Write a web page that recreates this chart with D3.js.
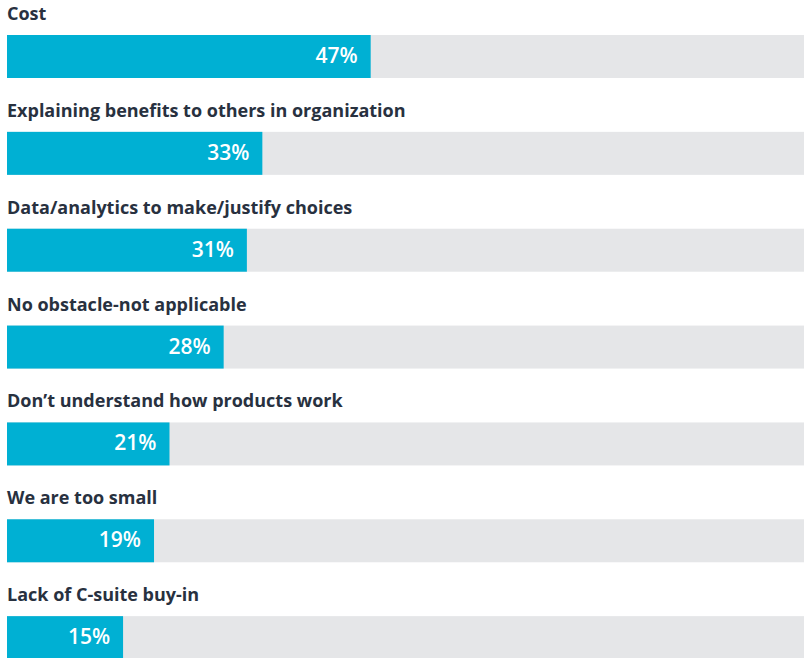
<!DOCTYPE html>
<html>
<head>
<meta charset="utf-8">
<script src="https://cdn.jsdelivr.net/npm/d3@7"></script>
<style>
  body { margin: 0; background: #fff; }
</style>
</head>
<body>
<script>
// survey answers, in display order
var categories = [
  "Cost",
  "Explaining benefits to others in organization",
  "Data/analytics to make/justify choices",
  "No obstacle-not applicable",
  "Don\u2019t understand how products work",
  "We are too small",
  "Lack of C-suite buy-in"
];
var values = [47, 33, 31, 28, 21, 19, 15];

var width = 804, height = 658;

var svg = d3.select("body")
    .append("svg")
    .attr("width", width)
    .attr("height", height);

var x = d3.scaleLinear()
    .domain([0, 103])   // track runs to the right edge
    .range([7, width]);

// each row = label + bar
var y = d3.scaleBand()
    .domain(categories)
    .range([0, 678])
    .paddingInner(0);

var barH = 43, barOff = 35;

var row = svg.append("g")
    .selectAll("g")
    .data(categories)
    .enter().append("g")
    .attr("transform", function(d) { return "translate(0," + y(d) + ")"; });

row.append("text")
    .attr("x", 7)
    .attr("y", 20)
    .style("font-family", "'Open Sans', sans-serif")
    .style("font-weight", "700")
    .style("font-size", "18px")
    .style("fill", "#28313f")
    .text(function(d) { return d; });

// gray track
row.append("rect")
    .attr("x", x(0))
    .attr("y", barOff)
    .attr("width", x(103) - x(0))
    .attr("height", barH)
    .style("fill", "#e5e6e8");

// value bar
row.append("rect")
    .attr("x", x(0))
    .attr("y", barOff)
    .attr("width", function(d, i) { return x(values[i]) - x(0); })
    .attr("height", barH)
    .style("fill", "#00b0d3");

row.append("text")
    .attr("x", function(d, i) { return x(values[i]) - 13; })
    .attr("y", barOff + 28)
    .attr("text-anchor", "end")
    .style("font-family", "'Open Sans', sans-serif")
    .style("font-weight", "600")
    .style("font-size", "21px")
    .style("fill", "#fff")
    .text(function(d, i) { return values[i] + "%"; });
</script>
</body>
</html>
